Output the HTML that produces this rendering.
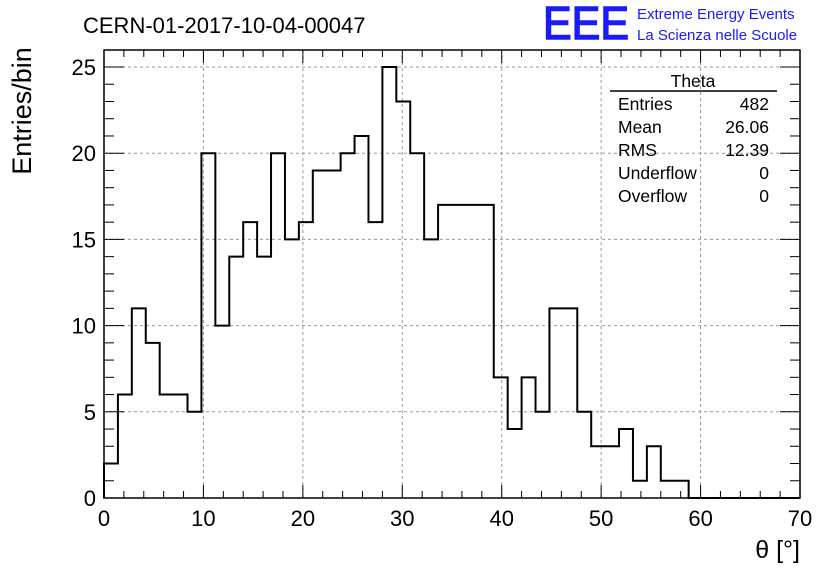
<!DOCTYPE html>
<html><head><meta charset="utf-8"><style>
body{margin:0;background:#fff;width:836px;height:572px;overflow:hidden;font-family:"Liberation Sans",sans-serif}
</style></head><body>
<svg id="c" width="836" height="572" xmlns="http://www.w3.org/2000/svg" font-family="Liberation Sans, sans-serif">
<text x="83" y="33" font-size="22">CERN-01-2017-10-04-00047</text>
<text x="543" y="39" font-size="46" fill="#1a1aff" stroke="#1a1aff" stroke-width="1.5" textLength="86" lengthAdjust="spacingAndGlyphs">EEE</text>
<text x="637" y="19" font-size="15" fill="#1a1aff">Extreme Energy Events</text>
<text x="637" y="40" font-size="15" fill="#1a1aff">La Scienza nelle Scuole</text>
<text transform="translate(31,111) rotate(-90)" text-anchor="middle" font-size="27">Entries/bin</text>
<text x="800" y="558" text-anchor="end" font-size="25">θ [°]</text>
<g id="grid"></g><g id="ticks"></g><g id="hist"></g>
<rect x="104" y="50" width="696" height="448" fill="none" stroke="#000" stroke-width="1.5"/>
<g font-size="17.5">
<text x="693" y="87" text-anchor="middle">Theta</text>
<line x1="610" y1="91" x2="777" y2="91" stroke="#000" stroke-width="1.5"/>
<text x="618" y="110">Entries</text><text x="769" y="110" text-anchor="end">482</text>
<text x="618" y="133">Mean</text><text x="769" y="133" text-anchor="end">26.06</text>
<text x="618" y="156">RMS</text><text x="769" y="156" text-anchor="end">12.39</text>
<text x="618" y="179">Underflow</text><text x="769" y="179" text-anchor="end">0</text>
<text x="618" y="202">Overflow</text><text x="769" y="202" text-anchor="end">0</text>
</g>
</svg>
<script>
const counts=[2,6,11,9,6,6,5,20,10,14,16,14,20,15,16,19,19,20,21,16,25,23,20,15,17,17,17,17,7,4,7,5,11,11,5,3,3,4,1,3,1,1,0,0,0,0,0,0,0,0];
const binWidth=1.4;
const xTicks=[0,10,20,30,40,50,60,70];
const yTicks=[0,5,10,15,20,25];
const X0=104,X1=800,Y0=498,Y1=67;
const sx=v=>X0+(v/70)*(X1-X0);
const sy=v=>Y0-(v/25)*(Y0-Y1);
const NS="http://www.w3.org/2000/svg";
function mk(t,a,p){const e=document.createElementNS(NS,t);for(const k in a)e.setAttribute(k,a[k]);p.appendChild(e);return e;}
const grid=document.getElementById('grid'),ticks=document.getElementById('ticks'),hist=document.getElementById('hist');
xTicks.forEach(v=>{
  if(v>0&&v<70){const g=mk('line',{x1:sx(v),x2:sx(v),y1:50,y2:498,stroke:'#999','stroke-dasharray':'3,3'},grid);
  
  }
  const t=mk('text',{x:sx(v),y:526,'text-anchor':'middle','font-size':22},ticks);t.textContent=v;
  
  
});
yTicks.forEach(v=>{
  if(v>0){const g=mk('line',{x1:104,x2:800,y1:sy(v),y2:sy(v),stroke:'#999','stroke-dasharray':'3,3'},grid);
  
  }
  const t=mk('text',{x:96,y:sy(v)+8,'text-anchor':'end','font-size':22},ticks);t.textContent=v;
  
  
});
for(let v=0;v<=70;v+=2){const L=v%10===0?13:7;
  mk('line',{x1:sx(v),x2:sx(v),y1:498,y2:498-L,stroke:'#000'},ticks);
  mk('line',{x1:sx(v),x2:sx(v),y1:50,y2:50+L,stroke:'#000'},ticks);}
for(let v=0;v<=26;v++){const y=sy(v);if(y<50)break;const L=v%5===0?20:10;
  mk('line',{x1:104,x2:104+L,y1:y,y2:y,stroke:'#000'},ticks);
  mk('line',{x1:800,x2:800-L,y1:y,y2:y,stroke:'#000'},ticks);}
let d='M'+sx(0)+','+sy(0);
counts.forEach((c,i)=>{d+=' L'+sx(i*binWidth)+','+sy(c)+' L'+sx((i+1)*binWidth)+','+sy(c);});
const p=mk('path',{d:d,fill:'none',stroke:'#000','stroke-width':2},hist);


</script>
</body></html>
